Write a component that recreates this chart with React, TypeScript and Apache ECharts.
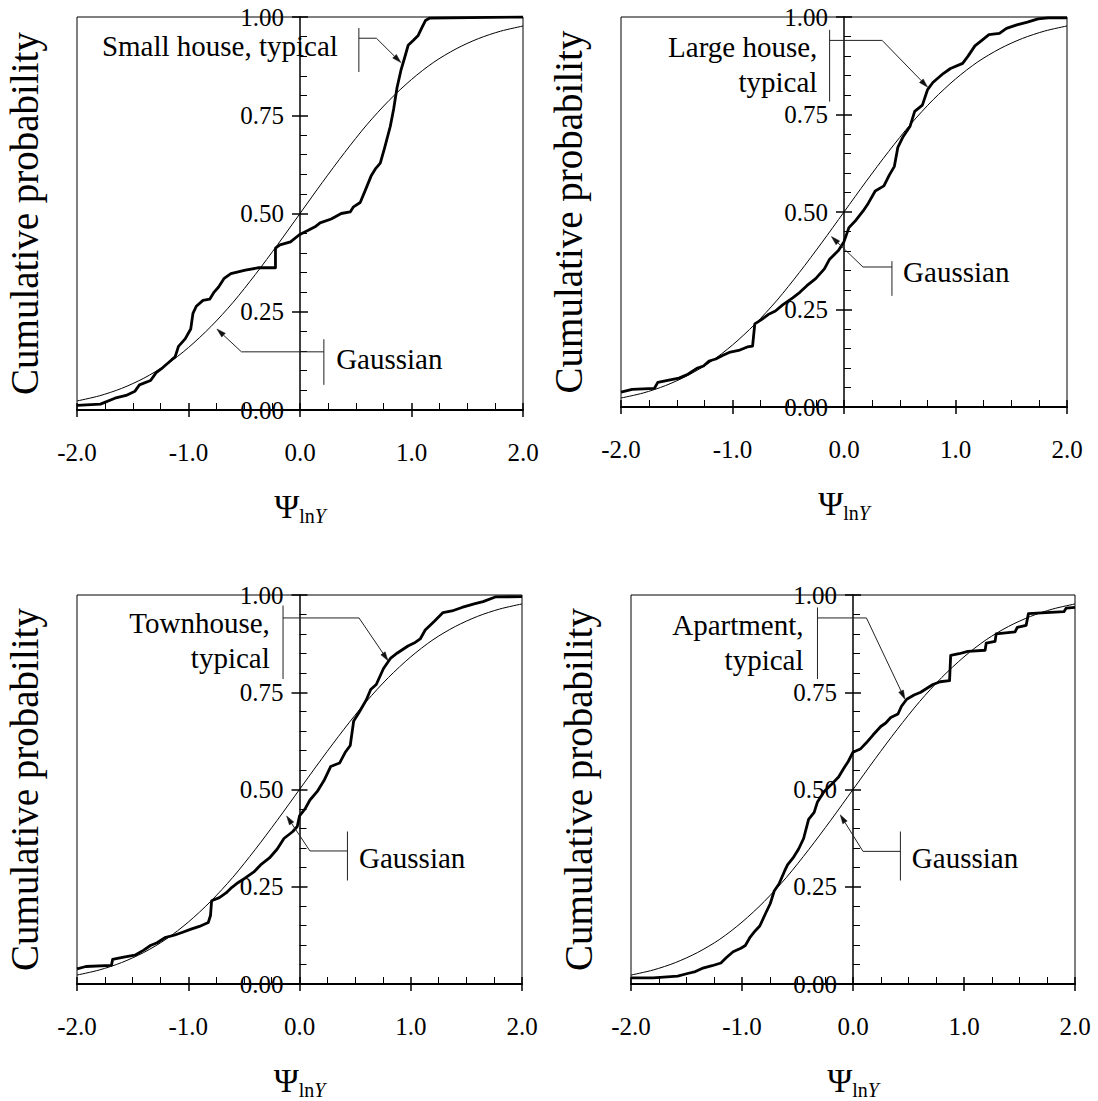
import React, { useEffect, useRef } from "react";
import * as echarts from "echarts";

// Gaussian reference curve
const GAUSS_X = [-2, -1.8, -1.6, -1.4, -1.2, -1.0, -0.8, -0.6, -0.4, -0.2, 0, 0.2, 0.4, 0.6, 0.8, 1.0, 1.2, 1.4, 1.6, 1.8, 2.0];
const GAUSS_Y = [0.023, 0.036, 0.055, 0.081, 0.115, 0.159, 0.212, 0.274, 0.345, 0.421, 0.5, 0.579, 0.655, 0.726, 0.788, 0.841, 0.885, 0.919, 0.945, 0.964, 0.977];

// Small house, typical
const SMALL_X = [-2, -1.79, -1.66, -1.56, -1.48, -1.44, -1.34, -1.29, -1.23, -1.15, -1.12, -1.09, -1.03, -0.98, -0.96, -0.93, -0.87, -0.81, -0.77, -0.73, -0.68, -0.62, -0.49, -0.37, -0.22, -0.22, -0.18, -0.085, -0.006, 0.07, 0.135, 0.18, 0.28, 0.37, 0.45, 0.48, 0.54, 0.59, 0.64, 0.68, 0.72, 0.76, 0.81, 0.84, 0.87, 0.905, 0.937, 0.97, 1.015, 1.06, 1.09, 1.125, 1.16, 2.0];
const SMALL_Y = [0.012, 0.015, 0.03, 0.037, 0.048, 0.064, 0.075, 0.095, 0.108, 0.128, 0.135, 0.162, 0.181, 0.206, 0.246, 0.264, 0.279, 0.282, 0.3, 0.313, 0.335, 0.347, 0.356, 0.362, 0.362, 0.412, 0.42, 0.428, 0.446, 0.457, 0.466, 0.476, 0.486, 0.5, 0.504, 0.517, 0.528, 0.562, 0.597, 0.615, 0.628, 0.668, 0.722, 0.766, 0.82, 0.864, 0.895, 0.928, 0.94, 0.953, 0.971, 0.991, 0.997, 1.0];

// Large house, typical
const LARGE_X = [-2, -1.9, -1.7, -1.67, -1.57, -1.48, -1.4, -1.32, -1.26, -1.21, -1.15, -1.09, -1.02, -0.945, -0.867, -0.82, -0.8, -0.74, -0.68, -0.615, -0.55, -0.46, -0.396, -0.333, -0.254, -0.176, -0.129, -0.05, 0, 0.044, 0.107, 0.17, 0.217, 0.28, 0.358, 0.405, 0.452, 0.483, 0.53, 0.593, 0.634, 0.703, 0.75, 0.797, 0.89, 0.955, 1.064, 1.111, 1.174, 1.253, 1.3, 1.394, 1.457, 1.55, 1.645, 1.74, 1.83, 2.0];
const LARGE_Y = [0.038, 0.045, 0.048, 0.063, 0.069, 0.074, 0.084, 0.099, 0.105, 0.118, 0.123, 0.132, 0.141, 0.145, 0.154, 0.156, 0.213, 0.224, 0.237, 0.246, 0.262, 0.28, 0.294, 0.311, 0.329, 0.354, 0.379, 0.401, 0.424, 0.46, 0.479, 0.502, 0.522, 0.554, 0.567, 0.594, 0.617, 0.666, 0.693, 0.72, 0.758, 0.774, 0.814, 0.832, 0.855, 0.868, 0.881, 0.899, 0.926, 0.944, 0.955, 0.958, 0.971, 0.98, 0.987, 0.995, 0.998, 0.998];

// Townhouse, typical
const TOWN_X = [-2, -1.92, -1.69, -1.68, -1.58, -1.48, -1.4, -1.34, -1.28, -1.21, -1.12, -1.05, -0.975, -0.9, -0.82, -0.8, -0.79, -0.72, -0.66, -0.61, -0.55, -0.49, -0.41, -0.35, -0.27, -0.2, -0.14, -0.06, -0.02, 0, 0.05, 0.094, 0.16, 0.22, 0.28, 0.36, 0.41, 0.456, 0.487, 0.535, 0.6, 0.64, 0.69, 0.755, 0.82, 0.88, 0.975, 1.04, 1.085, 1.13, 1.21, 1.29, 1.37, 1.46, 1.57, 1.65, 1.76, 2.0];
const TOWN_Y = [0.039, 0.045, 0.048, 0.063, 0.069, 0.074, 0.087, 0.099, 0.106, 0.119, 0.126, 0.133, 0.141, 0.148, 0.158, 0.176, 0.214, 0.222, 0.234, 0.248, 0.261, 0.272, 0.288, 0.306, 0.324, 0.347, 0.374, 0.392, 0.405, 0.432, 0.45, 0.473, 0.495, 0.523, 0.559, 0.568, 0.595, 0.613, 0.676, 0.698, 0.73, 0.757, 0.77, 0.811, 0.838, 0.851, 0.869, 0.878, 0.887, 0.91, 0.932, 0.955, 0.959, 0.968, 0.977, 0.983, 0.995, 0.996];

// Apartment, typical
const APT_X = [-2, -1.8, -1.58, -1.49, -1.42, -1.36, -1.27, -1.19, -1.14, -1.08, -1.01, -0.97, -0.93, -0.88, -0.84, -0.79, -0.745, -0.71, -0.667, -0.62, -0.59, -0.54, -0.49, -0.445, -0.4, -0.35, -0.32, -0.26, -0.19, -0.13, -0.084, -0.043, 0, 0.07, 0.12, 0.18, 0.25, 0.295, 0.34, 0.405, 0.437, 0.484, 0.55, 0.61, 0.67, 0.72, 0.785, 0.87, 0.88, 0.956, 1.035, 1.19, 1.2, 1.28, 1.29, 1.46, 1.48, 1.56, 1.58, 1.9, 1.92, 2.0];
const APT_Y = [0.016, 0.016, 0.02, 0.027, 0.032, 0.04, 0.047, 0.054, 0.068, 0.083, 0.092, 0.099, 0.119, 0.137, 0.149, 0.18, 0.207, 0.239, 0.257, 0.288, 0.306, 0.324, 0.347, 0.374, 0.423, 0.441, 0.468, 0.495, 0.514, 0.532, 0.554, 0.572, 0.596, 0.605, 0.62, 0.64, 0.662, 0.671, 0.685, 0.694, 0.714, 0.732, 0.743, 0.75, 0.761, 0.77, 0.777, 0.78, 0.845, 0.849, 0.855, 0.858, 0.876, 0.881, 0.9, 0.905, 0.917, 0.922, 0.952, 0.957, 0.966, 0.968];

const X_TICK_FORMAT = (v: number) => v.toFixed(1);
const Y_TICK_FORMAT = (v: number) => v.toFixed(2);

const SERIES_X = [SMALL_X, LARGE_X, TOWN_X, APT_X];
const SERIES_Y = [SMALL_Y, LARGE_Y, TOWN_Y, APT_Y];
const CURVE_LABELS = ["Small house, typical", "Large house,\ntypical", "Townhouse,\ntypical", "Apartment,\ntypical"];
const GAUSS_LABEL = "Gaussian";
const Y_TITLE = "Cumulative probability";

// layout (pixels)
const GRIDS = [
  { left: 77, top: 17, width: 446, height: 393 },
  { left: 621, top: 17, width: 446, height: 390 },
  { left: 77, top: 595, width: 445, height: 389 },
  { left: 631, top: 595, width: 444, height: 389 },
];

// annotation anchors in data coordinates
const CURVE_ANN = [
  { tx: 0.34, ty: 0.926, bx: 0.528, by1: 0.972, by2: 0.86, ey: 0.946, ex: 0.685, ax: 0.905, ay: 0.884 },
  { tx: -0.239, ty: 0.877, bx: -0.129, by1: 0.967, by2: 0.783, ey: 0.94, ex: 0.342, ax: 0.75, ay: 0.82 },
  { tx: -0.267, ty: 0.883, bx: -0.148, by1: 0.973, by2: 0.784, ey: 0.941, ex: 0.535, ax: 0.796, ay: 0.831 },
  { tx: -0.446, ty: 0.878, bx: -0.32, by1: 0.968, by2: 0.784, ey: 0.941, ex: 0.121, ax: 0.468, ay: 0.732 },
];
const GAUSS_ANN = [
  { tx: 0.324, ty: 0.131, bx: 0.214, by1: 0.18, by2: 0.064, ey: 0.148, ex: -0.525, ax: -0.745, ay: 0.206 },
  { tx: 0.53, ty: 0.347, bx: 0.43, by1: 0.374, by2: 0.285, ey: 0.359, ex: 0.17, ax: -0.113, ay: 0.437 },
  { tx: 0.535, ty: 0.324, bx: 0.431, by1: 0.392, by2: 0.266, ey: 0.342, ex: 0.094, ax: -0.116, ay: 0.432 },
  { tx: 0.53, ty: 0.324, bx: 0.427, by1: 0.392, by2: 0.266, ey: 0.341, ex: 0.09, ax: -0.115, ay: 0.435 },
];

const FONT = "'Liberation Serif', 'Times New Roman', serif";
const BLACK = "#000";

function buildOption() {
  const grid: any[] = [];
  const xAxis: any[] = [];
  const yAxis: any[] = [];
  const series: any[] = [];
  GRIDS.forEach((g, i) => {
    const zeroOffset = -g.width / 2; // moves the y axis from the left edge to x = 0
    grid.push({ ...g, show: true, borderColor: BLACK, borderWidth: 1, backgroundColor: "transparent", containLabel: false });
    // main x axis: inside ticks + minor ticks + labels + name
    xAxis.push({
      type: "value", gridIndex: i, position: "bottom", min: -2, max: 2, interval: 1,
      axisLine: { show: true, onZero: false, lineStyle: { color: BLACK, width: 2 } },
      axisTick: { show: true, inside: true, length: 7, lineStyle: { color: BLACK, width: 1.5 } },
      minorTick: { show: true, splitNumber: 4, length: 7, lineStyle: { color: BLACK, width: 1 } },
      axisLabel: { show: true, margin: 30, formatter: X_TICK_FORMAT, color: BLACK, fontFamily: FONT, fontSize: 25, showMinLabel: true, showMaxLabel: true },
      splitLine: { show: false },
      name: "{a|Ψ}{b|ln}{c|Y}",
      nameLocation: "middle",
      nameGap: 76,
      nameTextStyle: {
        color: BLACK,
        fontFamily: FONT,
        rich: {
          a: { fontSize: 34, fontFamily: FONT, color: BLACK },
          b: { fontSize: 20, fontFamily: FONT, color: BLACK, padding: [20, 0, 0, 0] },
          c: { fontSize: 20, fontFamily: FONT, color: BLACK, fontStyle: "italic", padding: [20, 0, 0, 0] },
        },
      },
    });
    // secondary x axis: outward major ticks
    xAxis.push({
      type: "value", gridIndex: i, position: "bottom", min: -2, max: 2, interval: 1,
      axisLine: { show: false, onZero: false },
      axisTick: { show: true, inside: false, length: 7, lineStyle: { color: BLACK, width: 1.5 } },
      minorTick: { show: false },
      axisLabel: { show: false },
      splitLine: { show: false },
    });
    // main y axis at x = 0
    yAxis.push({
      type: "value", gridIndex: i, position: "left", offset: zeroOffset, min: 0, max: 1, interval: 0.25,
      axisLine: { show: true, onZero: false, lineStyle: { color: BLACK, width: 1.5 } },
      axisTick: { show: true, inside: true, length: 8, lineStyle: { color: BLACK, width: 1.5 } },
      minorTick: { show: true, splitNumber: 5, length: 7, lineStyle: { color: BLACK, width: 1 } },
      axisLabel: { show: true, margin: 16, formatter: Y_TICK_FORMAT, color: BLACK, fontFamily: FONT, fontSize: 25, showMinLabel: true, showMaxLabel: true },
      splitLine: { show: false },
    });
    // secondary y axis: outward major ticks at x = 0
    yAxis.push({
      type: "value", gridIndex: i, position: "left", offset: zeroOffset, min: 0, max: 1, interval: 0.25,
      axisLine: { show: false, onZero: false },
      axisTick: { show: true, inside: false, length: 8, lineStyle: { color: BLACK, width: 1.5 } },
      minorTick: { show: false },
      axisLabel: { show: false },
      splitLine: { show: false },
    });
    // title-holder y axis at left edge
    yAxis.push({
      type: "value", gridIndex: i, position: "left", offset: 0, min: 0, max: 1, interval: 0.25,
      axisLine: { show: false, onZero: false },
      axisTick: { show: false },
      axisLabel: { show: false },
      splitLine: { show: false },
      name: Y_TITLE,
      nameLocation: "middle",
      nameGap: 33,
      nameTextStyle: { color: BLACK, fontFamily: FONT, fontSize: 39 },
    });
    series.push({
      type: "line", name: "Gaussian " + i, xAxisIndex: 2 * i, yAxisIndex: 3 * i,
      data: GAUSS_X.map((x, k) => [x, GAUSS_Y[k]]),
      smooth: 0.3, showSymbol: false, symbol: "none",
      lineStyle: { color: BLACK, width: 1 }, z: 3,
    });
    series.push({
      type: "line", name: CURVE_LABELS[i], xAxisIndex: 2 * i, yAxisIndex: 3 * i,
      data: SERIES_X[i].map((x, k) => [x, SERIES_Y[i][k]]),
      smooth: false, showSymbol: false, symbol: "none",
      lineStyle: { color: BLACK, width: 2.8, join: "round" }, z: 4,
    });
  });
  return { animation: false, backgroundColor: "#fff", grid, xAxis, yAxis, series };
}

function leader(chart: any, i: number, a: any, label: string, align: "left" | "right") {
  const P = (x: number, y: number) => chart.convertToPixel({ xAxisIndex: 2 * i, yAxisIndex: 3 * i }, [x, y]);
  const b1 = P(a.bx, a.by1);
  const b2 = P(a.bx, a.by2);
  const e0 = P(a.bx, a.ey);
  const e1 = P(a.ex, a.ey);
  const tip = P(a.ax, a.ay);
  const t = P(a.tx, a.ty);
  const dx = tip[0] - e1[0];
  const dy = tip[1] - e1[1];
  const len = Math.sqrt(dx * dx + dy * dy) || 1;
  const ux = dx / len, uy = dy / len;
  const L = 9, W = 2.6;
  const base = [tip[0] - ux * L, tip[1] - uy * L];
  const lineStyle = { stroke: "#222", lineWidth: 1, fill: null };
  return [
    { type: "line", shape: { x1: b1[0], y1: b1[1], x2: b2[0], y2: b2[1] }, style: lineStyle, z: 10 },
    { type: "polyline", shape: { points: [e0, e1, base] }, style: lineStyle, z: 10 },
    {
      type: "polygon",
      shape: { points: [tip, [base[0] - uy * W, base[1] + ux * W], [base[0] + uy * W, base[1] - ux * W]] },
      style: { fill: "#111", stroke: "#111", lineWidth: 0.5 }, z: 10,
    },
    {
      type: "text", x: t[0], y: t[1], z: 11,
      style: { text: label, fill: BLACK, font: `29px ${FONT}`, align, verticalAlign: "middle", lineHeight: 35 },
    },
  ];
}

export default function App() {
  const ref = useRef<HTMLDivElement>(null);
  useEffect(() => {
    document.body.style.margin = "0";
    const chart = echarts.init(ref.current!, null, { renderer: "svg" });
    chart.setOption(buildOption());
    const graphics: any[] = [];
    for (let i = 0; i < 4; i++) {
      graphics.push(...leader(chart, i, CURVE_ANN[i], CURVE_LABELS[i], "right"));
      graphics.push(...leader(chart, i, GAUSS_ANN[i], GAUSS_LABEL, "left"));
    }
    chart.setOption({ graphic: graphics });
    return () => chart.dispose();
  }, []);
  return <div ref={ref} style={{ width: 1098, height: 1101 }} />;
}
